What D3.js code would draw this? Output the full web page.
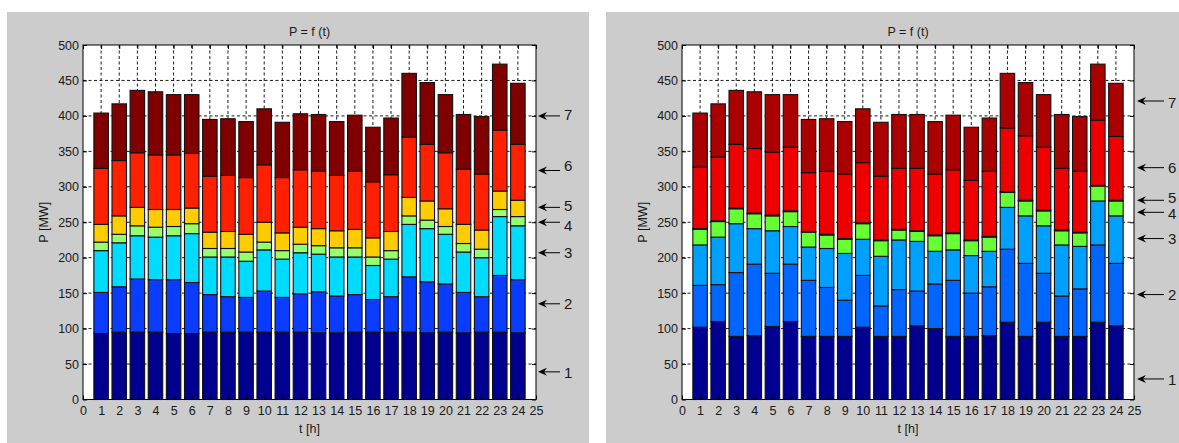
<!DOCTYPE html>
<html><head><meta charset="utf-8">
<script src="https://cdn.jsdelivr.net/npm/d3@7"></script>
<style>
html,body{margin:0;padding:0;background:#fff;}
svg{display:block;}
text{font-family:"Liberation Sans",Arial,Helvetica,sans-serif;fill:#1a1a1a;}
</style></head><body>
<svg id="chart" width="1179" height="443"></svg>
<script>
// ---------- data ----------
const hours = [1,2,3,4,5,6,7,8,9,10,11,12,13,14,15,16,17,18,19,20,21,22,23,24];
const xTickValues = [0,1,2,3,4,5,6,7,8,9,10,11,12,13,14,15,16,17,18,19,20,21,22,23,24,25];
const yTickValues = [0,50,100,150,200,250,300,350,400,450,500];
const seriesNames = ["1","2","3","4","5","6","7"];
const titleText = "P = f (t)";
const xLabelText = "t [h]";
const yLabelText = "P [MW]";

// left chart: power of each group [MW]
const leftP1 = [93,95,95,95,93,93,95,95,95,95,95,95,94,94,95,95,95,95,94,95,94,95,95,94];
const leftP2 = [58,64,75,74,76,72,53,50,49,58,49,54,58,52,53,46,50,78,72,68,57,50,80,75];
const leftP3 = [59,62,61,60,62,69,53,56,51,58,54,58,53,55,53,48,53,74,75,70,57,55,83,76];
const leftP4 = [12,12,14,14,13,14,12,12,13,11,12,12,12,13,13,12,12,12,12,11,12,12,10,13];
const leftP5 = [25,26,26,25,24,22,23,24,25,28,25,24,24,24,26,27,27,26,27,25,27,27,26,23];
const leftP6 = [79,78,77,77,77,77,79,79,80,81,78,81,81,78,82,79,80,85,80,79,78,79,86,79];
const leftP7 = [78,80,88,89,85,83,80,80,79,79,78,79,80,76,79,77,80,90,87,82,77,81,93,86];
const leftArrowValues = [39,135,207,250,271,323,400];

// right chart
const rightP1 = [102,110,89,90,103,110,89,89,89,102,89,89,104,100,89,89,90,109,89,109,89,89,109,104];
const rightP2 = [59,52,90,101,75,81,79,69,51,73,43,66,49,63,79,61,69,103,103,69,57,67,109,88];
const rightP3 = [57,67,69,50,60,53,47,55,66,51,70,70,70,46,43,53,50,59,67,67,72,60,62,67];
const rightP4 = [22,22,21,21,21,21,21,19,20,22,22,14,14,22,23,21,20,21,21,21,20,19,21,21];
const rightP5 = [1,1,1,1,1,1,1,1,1,1,1,1,1,1,1,1,1,1,1,1,1,1,1,1];
const rightP6 = [87,90,90,91,89,90,83,89,91,85,90,86,88,86,89,84,92,90,91,89,87,86,92,90];
const rightP7 = [76,75,76,80,81,74,75,74,74,76,76,76,76,74,77,75,75,77,75,74,76,77,79,75];
const rightArrowValues = [29,148,227,264,281,327,421];

const leftColors  = ["#000090","#0a3cff","#00dcff","#96ff6e","#ffcc00","#ff2000","#800000"];
const rightColors = ["#000090","#0066ff","#00a0ff","#66ff33","#ffcc00","#ee0000","#aa0000"];

// ---------- drawing ----------
const svg = d3.select("#chart");

function drawPanel(cfg){
  const g = svg.append("g");
  g.append("rect").attr("x",cfg.bx).attr("y",cfg.by).attr("width",cfg.bw).attr("height",cfg.bh).attr("fill","#cccccc");

  const x = d3.scaleLinear().domain([0,25]).range([cfg.x0,cfg.x1]);
  const y = d3.scaleLinear().domain([0,500]).range([cfg.yb,cfg.yt]);

  g.append("rect").attr("x",x(0)).attr("y",y(500)).attr("width",x(25)-x(0)).attr("height",y(0)-y(500)).attr("fill","#fff");

  // grid
  const grid = g.append("g").attr("stroke","#000").attr("stroke-width",0.9).attr("stroke-dasharray","3,2.5");
  grid.selectAll("line.v").data(xTickValues.slice(1,-1)).join("line").attr("class","v")
    .attr("x1",d=>x(d)).attr("x2",d=>x(d)).attr("y1",y(500)).attr("y2",y(0));
  grid.selectAll("line.h").data(yTickValues.slice(1,-1)).join("line").attr("class","h")
    .attr("x1",x(0)).attr("x2",x(25)).attr("y1",d=>y(d)).attr("y2",d=>y(d));

  // stacked bars
  const rows = hours.map((h,i)=>{
    const r = {hour:h};
    seriesNames.forEach((k,j)=>{ r[k] = cfg.series[j][i]; });
    return r;
  });
  const stacked = d3.stack().keys(seriesNames)(rows);
  const bw = 0.8*(x(1)-x(0));
  const bars = g.append("g");
  stacked.forEach((layer,j)=>{
    bars.append("g").attr("fill",cfg.colors[j]).attr("stroke","#111").attr("stroke-width",1.1)
      .selectAll("rect").data(layer).join("rect")
      .attr("x",d=>x(d.data.hour)-bw/2).attr("width",bw)
      .attr("y",d=>y(d[1])).attr("height",d=>Math.max(0,y(d[0])-y(d[1])));
  });

  // box
  g.append("rect").attr("x",x(0)).attr("y",y(500)).attr("width",x(25)-x(0)).attr("height",y(0)-y(500))
    .attr("fill","none").attr("stroke","#000").attr("stroke-width",1);

  // axes
  const fs = "12.5px";
  const ay = g.append("g").attr("transform",`translate(${x(0)},0)`)
    .call(d3.axisLeft(y).tickValues(yTickValues).tickSizeInner(-4).tickSizeOuter(0).tickPadding(4));
  const ax = g.append("g").attr("transform",`translate(0,${y(0)})`)
    .call(d3.axisBottom(x).tickValues(xTickValues).tickFormat(d3.format("d")).tickSizeInner(-4).tickSizeOuter(0).tickPadding(7));
  const ar = g.append("g").attr("transform",`translate(${x(25)},0)`)
    .call(d3.axisRight(y).tickValues(yTickValues).tickFormat("").tickSizeInner(-4).tickSizeOuter(0));
  const at = g.append("g").attr("transform",`translate(0,${y(500)})`)
    .call(d3.axisTop(x).tickValues(xTickValues).tickFormat("").tickSizeInner(-4).tickSizeOuter(0));
  [ay,ax,ar,at].forEach(a=>{
    a.select(".domain").remove();
    a.selectAll("line").attr("stroke","#000");
    a.selectAll("text").attr("font-size",fs).attr("fill","#1a1a1a").attr("font-family",null);
  });

  // titles
  const cx = (x(0)+x(25))/2;
  g.append("text").attr("x",cx).attr("y",36).attr("text-anchor","middle").attr("font-size",fs).text(titleText);
  g.append("text").attr("x",cx).attr("y",433).attr("text-anchor","middle").attr("font-size",fs).text(xLabelText);
  g.append("text").attr("transform",`translate(${cfg.ylx},${(y(0)+y(500))/2}) rotate(-90)`)
    .attr("text-anchor","middle").attr("font-size",fs).text(yLabelText);

  // arrow annotations
  const arr = g.append("g");
  cfg.arrows.forEach((v,i)=>{
    const yy = y(v);
    arr.append("line").attr("x1",cfg.tip+3).attr("x2",cfg.tail).attr("y1",yy).attr("y2",yy)
      .attr("stroke","#000").attr("stroke-width",1);
    arr.append("path").attr("d",`M${cfg.tip},${yy} L${cfg.tip+9},${yy-4} L${cfg.tip+6},${yy} L${cfg.tip+9},${yy+4} Z`)
      .attr("fill","#000");
    arr.append("text").attr("x",cfg.label).attr("y",yy+cfg.labelDy[i]+5.5).attr("font-size","15px").text(seriesNames[i]);
  });
}

drawPanel({bx:7,by:12,bw:582,bh:431,x0:83,x1:536,yb:399.5,yt:45,ylx:48,
  tip:538,tail:560,label:564,labelDy:[1,0,0,3,-2,-5,-1],
  series:[leftP1,leftP2,leftP3,leftP4,leftP5,leftP6,leftP7],colors:leftColors,arrows:leftArrowValues});
drawPanel({bx:606,by:12,bw:573,bh:431,x0:682,x1:1134,yb:399.5,yt:45,ylx:647,
  tip:1137,tail:1164,label:1168,labelDy:[0.5,0,0,1.5,-3,0,1.5],
  series:[rightP1,rightP2,rightP3,rightP4,rightP5,rightP6,rightP7],colors:rightColors,arrows:rightArrowValues});
</script>
</body></html>
